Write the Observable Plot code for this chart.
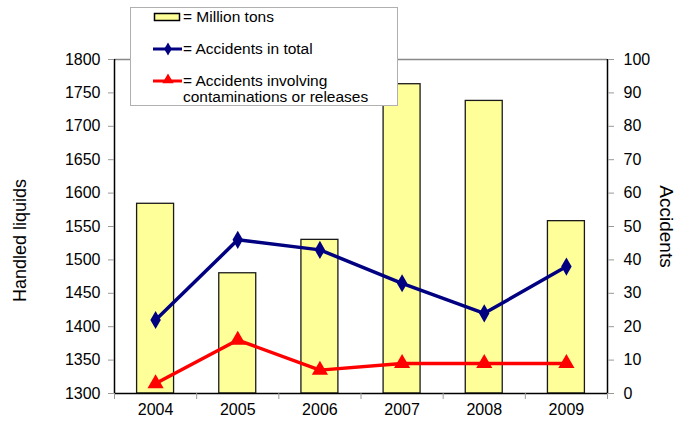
<!DOCTYPE html>
<html><head><meta charset="utf-8">
<script src="https://cdn.jsdelivr.net/npm/d3@7"></script>
<script src="https://cdn.jsdelivr.net/npm/@observablehq/plot@0.6"></script>
<style>
body{margin:0;background:#fff;font-family:"Liberation Sans",Arial,sans-serif;}
#wrap{position:relative;width:680px;height:421px;}
#legend{position:absolute;left:130px;top:7px;}
</style></head>
<body><div id="wrap"><div id="chart"></div><div id="legend"></div></div>
<script>
const years = [2004, 2005, 2006, 2007, 2008, 2009];
const millionTons = [1584, 1480, 1530, 1763, 1738, 1558];
const accidentsTotal = [22, 46, 43, 33, 24, 38];
const accidentsContam = [3, 16, 7, 9, 9, 9];
const leftTicks = [1300, 1350, 1400, 1450, 1500, 1550, 1600, 1650, 1700, 1750, 1800];
const rightTicks = [0, 10, 20, 30, 40, 50, 60, 70, 80, 90, 100];
const legendLabels = ["= Million tons", "= Accidents in total", "= Accidents involving", "contaminations or releases"];
const leftTitle = "Handled liquids";
const rightTitle = "Accidents";

const leftDomain = [leftTicks[0], leftTicks[leftTicks.length - 1]];
const rightDomain = [rightTicks[0], rightTicks[rightTicks.length - 1]];
const k = (leftDomain[1] - leftDomain[0]) / (rightDomain[1] - rightDomain[0]);
const toLeft = v => leftDomain[0] + (v - rightDomain[0]) * k;
const fromLeft = v => rightDomain[0] + (v - leftDomain[0]) / k;

const data = years.map((y, i) => ({year: y, tons: millionTons[i], total: accidentsTotal[i], contam: accidentsContam[i]}));
const xDomain = [years[0] - 0.5, years[years.length - 1] + 0.5];
const boundaries = years.map(y => y - 0.5).concat([years[years.length - 1] + 0.5]);
const half = 0.225;

const NAVY = "#000080", RED = "#ff0000", YELLOW = "#ffff99";

const chart = Plot.plot({
  width: 680, height: 421,
  marginLeft: 114, marginRight: 73, marginTop: 59, marginBottom: 28,
  style: {fontFamily: "'Liberation Sans', Arial, sans-serif", fontSize: "16px", color: "#000", background: "#fff"},
  x: {domain: xDomain},
  y: {domain: leftDomain},
  marks: [
    Plot.rectY(data, {x1: d => d.year - half, x2: d => d.year + half, y1: () => leftDomain[0], y2: "tons", fill: YELLOW, stroke: "#1a1a1a", strokeWidth: 1.3}),
    Plot.ruleY([leftDomain[1]], {stroke: "#888", strokeWidth: 1.5}),
    Plot.ruleY([leftDomain[0]], {stroke: "#000", strokeWidth: 1.5}),
    Plot.ruleX(xDomain, {stroke: "#000", strokeWidth: 1.5}),
    Plot.axisY({anchor: "left", ticks: leftTicks, tickSize: 6, tickPadding: 8, label: null, stroke: "#999", fill: "#000", tickFormat: d => String(d)}),
    Plot.axisY({anchor: "right", ticks: rightTicks.map(toLeft), tickSize: 6, tickPadding: 10, label: null, stroke: "#999", fill: "#000", tickFormat: d => String(Math.round(fromLeft(d)))}),
    Plot.axisX({ticks: boundaries, tickSize: 6, tickFormat: () => "", label: null, stroke: "#999"}),
    Plot.axisX({ticks: years, tickSize: 0, tickPadding: 10, tickFormat: d => String(d), label: null, fill: "#000"}),
    Plot.lineY(data, {x: "year", y: d => toLeft(d.contam), stroke: RED, strokeWidth: 3.5}),
    Plot.dot(data, {x: "year", y: d => toLeft(d.contam), symbol: "triangle", r: 6, fill: RED}),
    Plot.lineY(data, {x: "year", y: d => toLeft(d.total), stroke: NAVY, strokeWidth: 3.5}),
    Plot.dot(data, {x: "year", y: d => toLeft(d.total), symbol: "diamond", r: 5.5, fill: NAVY}),
    Plot.text([leftTitle], {frameAnchor: "left", textAnchor: "middle", dx: -94, dy: 14, rotate: -90, fontSize: 18, fill: "#000"}),
    Plot.text([rightTitle], {frameAnchor: "right", textAnchor: "middle", dx: 59, dy: 0, rotate: 90, fontSize: 19, fill: "#000"})
  ]
});
document.getElementById("chart").appendChild(chart);

// Legend
const lw = 268, lh = 99;
const lg = d3.select("#legend").append("svg").attr("width", lw).attr("height", lh)
  .style("font-family", "'Liberation Sans', Arial, sans-serif").style("font-size", "15.5px");
lg.append("rect").attr("x", 0.5).attr("y", 0.5).attr("width", lw - 1).attr("height", lh - 1).attr("fill", "#fff").attr("stroke", "#b0b0b0");
lg.append("rect").attr("x", 24.5).attr("y", 6.5).attr("width", 25).attr("height", 7).attr("fill", YELLOW).attr("stroke", "#000").attr("stroke-width", 1.5);
lg.append("line").attr("x1", 23).attr("x2", 52).attr("y1", 42).attr("y2", 42).attr("stroke", NAVY).attr("stroke-width", 3);
lg.append("path").attr("d", d3.symbol(d3.symbolDiamond, 50)()).attr("transform", "translate(38,42)").attr("fill", NAVY);
lg.append("line").attr("x1", 23).attr("x2", 52).attr("y1", 74).attr("y2", 74).attr("stroke", RED).attr("stroke-width", 3);
lg.append("path").attr("d", d3.symbol(d3.symbolTriangle, 55)()).attr("transform", "translate(38,73)").attr("fill", RED);
const ly = [10, 42, 74, 90];
legendLabels.forEach((t, i) => {
  lg.append("text").attr("x", 53).attr("y", ly[i]).attr("dy", "0.35em").text(t);
});
</script>
</body></html>
